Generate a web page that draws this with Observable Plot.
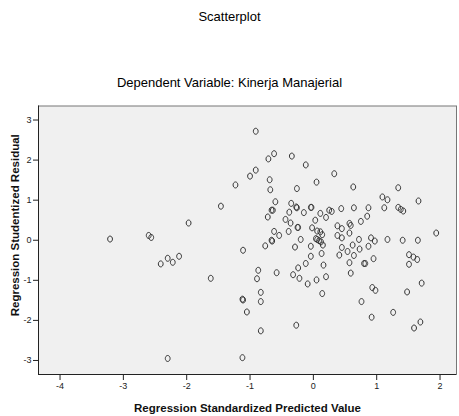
<!DOCTYPE html>
<html>
<head>
<meta charset="utf-8">
<script src="https://cdn.jsdelivr.net/npm/d3@7"></script>
<script src="https://cdn.jsdelivr.net/npm/@observablehq/plot@0.6"></script>
<style>
  html, body { margin: 0; padding: 0; background: #fff; }
  #wrap { position: relative; width: 459px; height: 416px; font-family: "Liberation Sans", Arial, sans-serif; color: #000; }
  .ttl { position: absolute; left: 0; width: 459px; text-align: center; font-size: 13px; line-height: 16px; z-index: 2; }
  #chart { position: absolute; left: 0; top: 0; }
</style>
</head>
<body>
<div id="wrap">
  <div id="chart"></div>
  <div class="ttl" id="title" style="top:9px;"></div>
  <div class="ttl" id="subtitle" style="top:75px;"></div>
</div>
<script>
const titleText = "Scatterplot";
const subtitleText = "Dependent Variable: Kinerja Manajerial";
const xLabel = "Regression Standardized Predicted Value";
const yLabel = "Regression Studentized Residual";
const xTicks = [-4, -3, -2, -1, 0, 1, 2];
const yTicks = [-3, -2, -1, 0, 1, 2, 3];
const xDomain = [-4.34, 2.26];
const yDomain = [-3.35, 3.35];

// Regression standardized predicted value
const predicted = [
  -3.21, -2.60, -2.56, -1.97, -2.30, -2.12, -2.41, -2.22, -1.62, -2.30,
  -1.46, -1.23, -1.00, -0.91, -0.91, -0.71, -0.62, -0.34, -0.12, 0.33,
  -0.69, -0.68, 0.05, -0.26, 0.63, 1.34, 1.09, 1.17, 1.66, -0.60,
  -0.35, -0.27, -0.26, -0.04, -0.03, 0.11, 0.25, 0.29, 0.44, 0.64,
  0.87, 1.12, 1.34, 1.38, 1.42, 0.85, 0.75, 0.57, 0.59, -0.66,
  -0.64, -0.72, -0.38, -0.15, -0.44, -0.36, -0.25, -0.24, 0.03, 0.20,
  -0.02, 0.06, 0.11, 0.14, 0.04, 0.06, 0.09, 0.12, 0.15, -0.04,
  -0.20, -0.29, -0.39, -0.54, -0.62, -0.66, -0.65, -0.76, -1.11, 0.38,
  0.45, 0.38, 0.45, 0.57, 0.45, 0.41, 0.54, 0.62, 0.73, 0.72,
  0.87, 0.91, 0.97, 1.17, 1.41, 1.65, 1.94, 0.64, 0.95, 0.57,
  0.80, 0.82, 0.59, 1.51, 1.58, 1.64, 1.51, 1.71, 0.93, 0.98,
  1.48, 0.76, 0.92, 1.26, 1.59, 1.69, -0.04, -0.12, -0.24, -0.32,
  -0.22, 0.05, 0.20, 0.16, 0.13, -0.09, -0.58, -0.87, -0.89, -0.83,
  -0.83, -0.83, -0.27, 0.14, -1.12, -1.11, -1.05, -1.12
];
// Regression studentized residual
const residual = [
  0.03, 0.12, 0.07, 0.43, -0.45, -0.40, -0.59, -0.55, -0.95, -2.95,
  0.85, 1.38, 1.60, 1.75, 2.72, 2.03, 2.16, 2.10, 1.88, 1.66,
  1.51, 1.26, 1.45, 1.29, 1.33, 1.31, 1.08, 1.01, 0.98, 0.96,
  0.92, 0.83, 0.81, 0.82, 0.82, 0.67, 0.75, 0.72, 0.79, 0.81,
  0.81, 0.81, 0.82, 0.77, 0.73, 0.60, 0.47, 0.42, 0.37, 0.75,
  0.75, 0.58, 0.70, 0.69, 0.52, 0.43, 0.32, 0.32, 0.50, 0.57,
  0.31, 0.23, 0.21, 0.14, 0.04, 0.02, -0.01, -0.04, -0.12, -0.15,
  0.02, -0.17, 0.22, 0.12, 0.22, 0.00, -0.02, -0.14, -0.25, 0.36,
  0.29, 0.12, 0.06, 0.18, -0.18, -0.37, -0.28, -0.12, -0.22, 0.02,
  -0.15, 0.06, -0.02, 0.02, 0.00, 0.00, 0.18, -0.38, -0.46, -0.56,
  -0.58, -0.58, -0.82, -0.36, -0.42, -0.48, -0.60, -1.07, -1.18, -1.25,
  -1.29, -1.53, -1.92, -1.80, -2.19, -2.04, -0.40, -0.58, -0.69, -0.86,
  -0.95, -0.99, -0.91, -0.62, -0.33, -1.09, -0.81, -0.75, -0.96, -1.30,
  -1.53, -2.26, -2.12, -1.33, -1.47, -1.49, -1.79, -2.93
];

const points = predicted.map((p, i) => ({x: p, y: residual[i]}));

// small upright oval marker like SPSS "o"
const oval = {
  draw(ctx) {
    const rx = 2.4, ry = 3.0, k = 0.5523;
    ctx.moveTo(rx, 0);
    ctx.bezierCurveTo(rx, ry * k, rx * k, ry, 0, ry);
    ctx.bezierCurveTo(-rx * k, ry, -rx, ry * k, -rx, 0);
    ctx.bezierCurveTo(-rx, -ry * k, -rx * k, -ry, 0, -ry);
    ctx.bezierCurveTo(rx * k, -ry, rx, -ry * k, rx, 0);
    ctx.closePath();
  }
};

document.getElementById("title").textContent = titleText;
document.getElementById("subtitle").textContent = subtitleText;

const chart = Plot.plot({
  width: 459,
  height: 416,
  marginTop: 105.5,
  marginBottom: 42,
  marginLeft: 38,
  marginRight: 3,
  style: {fontFamily: '"Liberation Sans", Arial, sans-serif', fontSize: "9px", color: "#222", background: "transparent"},
  x: {domain: xDomain, ticks: xTicks, tickSize: 6, tickPadding: 2, tickFormat: d => String(d), label: null},
  y: {domain: yDomain, ticks: yTicks, tickSize: 5, tickPadding: 2, tickFormat: d => String(d), label: null},
  marks: [
    Plot.frame({fill: "#f0f0f0", stroke: "#777"}),
    Plot.ruleX([xDomain[0]], {stroke: "#222"}),
    Plot.ruleY([yDomain[0]], {stroke: "#222"}),
    Plot.dot(points, {x: "x", y: "y", symbol: oval, stroke: "#333", strokeWidth: 1, fill: "none"}),
    Plot.text([xLabel], {text: d => d, frameAnchor: "bottom", dy: 37, fontWeight: "bold", fontSize: 11.5, fill: "#111"}),
    Plot.text([yLabel], {text: d => d, frameAnchor: "left", textAnchor: "middle", lineAnchor: "middle", dx: -23, dy: -15, rotate: -90, fontWeight: "bold", fontSize: 11.5, fill: "#111"})
  ]
});
document.getElementById("chart").appendChild(chart);
</script>
</body>
</html>
